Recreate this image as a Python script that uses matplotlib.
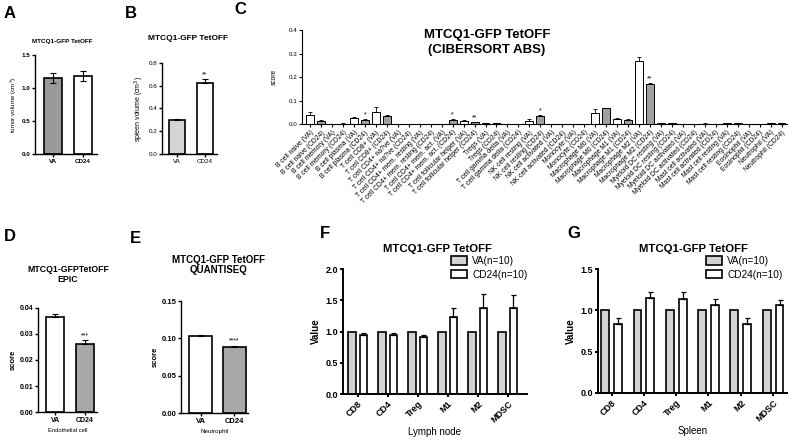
import numpy as np
import matplotlib
matplotlib.use("Agg")
import matplotlib.pyplot as plt
import matplotlib.patches as mpatches

plt.rcParams['font.family'] = ['Liberation Sans', 'DejaVu Sans']

W, H = 789, 444

# ---- data ----
groups2 = ["VA", "CD24"]

tumor_vol = [1.15, 1.18]
tumor_err = [0.08, 0.07]

spleen_vol = [0.295, 0.62]
spleen_err = [0.01, 0.035]

cells = ["B cell naive", "B cell memory", "B cell plasma", "T cell CD8+",
         "T cell CD4+ na?ve", "T cell CD4+ mem. resting", "T cell CD4+ mem. act.",
         "T cell follicular helper", "Tregs", "T cell gamma delta", "NK cell resting",
         "NK cell activated", "Monocyte", "Macrophage M0", "Macrophage M1",
         "Macrophage M2", "Myeloid DC resting", "Myeloid DC activated",
         "Mast cell activated", "Mast cell resting", "Eosinophil", "Neutrophil"]
cib_va = [0.039, 0.0, 0.028, 0.054, 0.0, 0.0, 0.002, 0.014, 0.004, 0.0, 0.014,
          0.002, 0.0, 0.048, 0.021, 0.267, 0.004, 0.0, 0.003, 0.004, 0.0, 0.004]
cib_va_err = [0.013, 0.0, 0.001, 0.018, 0.0, 0.0, 0.0005, 0.003, 0.002, 0.0, 0.008,
              0.0005, 0.0, 0.016, 0.006, 0.018, 0.002, 0.0, 0.002, 0.002, 0.0, 0.002]
cib_cd24 = [0.013, 0.003, 0.018, 0.037, 0.0, 0.0, 0.018, 0.008, 0.004, 0.0, 0.036,
            0.0, 0.0, 0.069, 0.020, 0.172, 0.004, 0.0, 0.0, 0.005, 0.0, 0.004]
cib_cd24_err = [0.006, 0.001, 0.003, 0.003, 0.0, 0.0, 0.005, 0.003, 0.002, 0.0, 0.002,
                0.0, 0.0, 0.002, 0.003, 0.004, 0.002, 0.0, 0.0, 0.002, 0.0, 0.002]
cib_sig = {(2, 1): "*", (6, 1): "*", (7, 1): "**", (10, 1): "*", (15, 1): "**"}

epic = [0.0365, 0.0263]
epic_err = [0.0013, 0.0013]

quanti = [0.103, 0.089]
quanti_err = [0.0012, 0.0008]

pops = ["CD8", "CD4", "Treg", "M1", "M2", "MDSC"]
lymph_va = [1.0, 1.0, 1.0, 1.0, 1.0, 1.0]
lymph_cd24 = [0.95, 0.95, 0.91, 1.23, 1.38, 1.37]
lymph_err = [0.03, 0.03, 0.03, 0.15, 0.22, 0.22]
spl_va = [1.0, 1.0, 1.0, 1.0, 1.0, 1.0]
spl_cd24 = [0.83, 1.15, 1.14, 1.07, 0.83, 1.06]
spl_err = [0.08, 0.07, 0.08, 0.07, 0.08, 0.07]


def box(x0, x1, ytop, ybot):
    return [x0 / W, 1 - ybot / H, (x1 - x0) / W, (ybot - ytop) / H]


def style(ax, lw=1.0, fs=5, bold=True):
    for s in ['top', 'right']:
        ax.spines[s].set_visible(False)
    for s in ['left', 'bottom']:
        ax.spines[s].set_linewidth(lw)
    ax.tick_params(width=lw, length=2.5, labelsize=fs, pad=1)
    if bold:
        for t in ax.get_yticklabels() + ax.get_xticklabels():
            t.set_fontweight('bold')


def ftext(x, y, s, **kw):
    fig.text(x / W, 1 - y / H, s, **kw)


fig = plt.figure(figsize=(W / 100, H / 100), dpi=100)

# ---- A ----
ax = fig.add_axes(box(35, 97, 55, 154))
ax.bar([0, 1], tumor_vol, width=0.6, color=['#9a9a9a', 'white'], edgecolor='black', linewidth=1.2)
ax.errorbar([0, 1], tumor_vol, yerr=tumor_err, fmt='none', ecolor='k', elinewidth=0.8, capsize=2.5, capthick=0.8)
ax.set_ylim(0, 1.5)
ax.set_xlim(-0.6, 1.47)
ax.set_yticks([0, 0.5, 1.0, 1.5])
ax.set_xticks([0, 1], groups2)
ax.set_ylabel("tumor volume (cm$^3$)", fontsize=4.5, labelpad=2)
style(ax, fs=4.5)
ftext(62, 42, "MTCQ1-GFP TetOFF", fontsize=4.6, fontweight='bold', ha='center', va='center')
ftext(4, 14, "A", fontsize=12, fontweight='bold', va='center')

# ---- B ----
ax = fig.add_axes(box(162, 217, 63, 154))
ax.bar([0, 1], spleen_vol, width=0.6, color=['#d4d4d4', 'white'], edgecolor='black', linewidth=1.2)
ax.errorbar([0, 1], spleen_vol, yerr=[[0, 0], spleen_err], fmt='none', ecolor='k', elinewidth=0.8, capsize=2.5, capthick=0.8)
ax.text(1, spleen_vol[1] + spleen_err[1] + 0.01, "**", ha='center', va='bottom', fontsize=5)
ax.set_ylim(0, 0.8)
ax.set_xlim(-0.54, 1.43)
ax.set_yticks([0, 0.2, 0.4, 0.6, 0.8])
ax.set_xticks([0, 1], groups2)
ax.set_ylabel("spleen volume (cm$^3$)", fontsize=5, labelpad=2)
style(ax, fs=4.5, bold=False)
ftext(188, 38, "MTCQ1-GFP TetOFF", fontsize=6, fontweight='bold', ha='center', va='center')
ftext(125, 14, "B", fontsize=12, fontweight='bold', va='center')

# ---- C ----
ax = fig.add_axes(box(302, 787, 30, 124.3))
n = len(cells)
xva = np.arange(n) * 2
xcd = xva + 1
ax.bar(xva, cib_va, width=0.72, color='white', edgecolor='black', linewidth=0.7)
ax.bar(xcd, cib_cd24, width=0.72, color='#a0a0a0', edgecolor='black', linewidth=0.7)
ax.errorbar(xva, cib_va, yerr=[np.zeros(n), cib_va_err], fmt='none', ecolor='k', elinewidth=0.6, capsize=1.5, capthick=0.6)
ax.errorbar(xcd, cib_cd24, yerr=[np.zeros(n), cib_cd24_err], fmt='none', ecolor='k', elinewidth=0.6, capsize=1.5, capthick=0.6)
for (i, g), s in cib_sig.items():
    v = cib_cd24[i] + cib_cd24_err[i]
    ax.text(2 * i + g, v + 0.003, s, ha='center', va='bottom', fontsize=5)
labels = []
for c in cells:
    labels += [c + " (VA)", c + " (CD24)"]
ax.set_xticks(np.arange(2 * n), labels, rotation=45, ha='right', rotation_mode='anchor')
ax.set_xlim(-0.74, 2 * n - 1 + 0.5)
ax.set_ylim(0, 0.4)
ax.set_yticks([0, 0.1, 0.2, 0.3, 0.4])
ax.set_ylabel("score", fontsize=4.8, labelpad=8)
style(ax, lw=0.8, fs=4.5, bold=False)
ax.tick_params(axis='x', length=2, labelsize=4.9, pad=1.5)
ftext(487, 35, "MTCQ1-GFP TetOFF", fontsize=9.5, fontweight='bold', ha='center', va='center')
ftext(487, 50, "(CIBERSORT ABS)", fontsize=9.5, fontweight='bold', ha='center', va='center')
ftext(234, 9, "C", fontsize=12, fontweight='bold', va='center')

# ---- D ----
ax = fig.add_axes(box(38, 97, 308, 412))
ax.bar([0, 1], epic, width=0.58, color=['white', '#a8a8a8'], edgecolor='black', linewidth=1.2)
ax.errorbar([0, 1], epic, yerr=[[0, 0], epic_err], fmt='none', ecolor='k', elinewidth=0.8, capsize=2.5, capthick=0.8)
ax.text(1, epic[1] + epic_err[1] + 0.0004, "***", ha='center', va='bottom', fontsize=5)
ax.set_ylim(0, 0.04)
ax.set_xlim(-0.57, 1.4)
ax.set_yticks([0, 0.01, 0.02, 0.03, 0.04], ["0.00", "0.01", "0.02", "0.03", "0.04"])
ax.set_xticks([0, 1], groups2)
ax.set_ylabel("score", fontsize=5.5, fontweight='bold', labelpad=2)
ax.set_xlabel("Endothelial cell", fontsize=4.2, labelpad=3)
style(ax, fs=5)
ftext(68, 270, "MTCQ1-GFPTetOFF", fontsize=6.3, fontweight='bold', ha='center', va='center')
ftext(68, 280, "EPIC", fontsize=6.3, fontweight='bold', ha='center', va='center')
ftext(4, 236, "D", fontsize=12, fontweight='bold', va='center')

# ---- E ----
ax = fig.add_axes(box(181, 248, 301, 413))
ax.bar([0, 1], quanti, width=0.69, color=['white', '#a8a8a8'], edgecolor='black', linewidth=1.2)
ax.errorbar([0, 1], quanti, yerr=[[0, 0], quanti_err], fmt='none', ecolor='k', elinewidth=0.8, capsize=2.5, capthick=0.8)
ax.text(1, quanti[1] + quanti_err[1] + 0.002, "****", ha='center', va='bottom', fontsize=5)
ax.set_ylim(0, 0.15)
ax.set_xlim(-0.6, 1.42)
ax.set_yticks([0, 0.05, 0.1, 0.15], ["0.00", "0.05", "0.10", "0.15"])
ax.set_xticks([0, 1], groups2)
ax.set_ylabel("score", fontsize=5.5, fontweight='bold', labelpad=2)
ax.set_xlabel("Neutrophil", fontsize=4.5, labelpad=3)
style(ax, fs=5.5)
ftext(218, 260, "MTCQ1-GFP TetOFF", fontsize=7, fontweight='bold', ha='center', va='center')
ftext(218, 270, "QUANTISEQ", fontsize=7, fontweight='bold', ha='center', va='center')
ftext(130, 238, "E", fontsize=12, fontweight='bold', va='center')


# ---- F, G ----
def grouped(box_px, va, cd, err, ymax, yticks, xlim, off, bw, xlabel, title_xy, letter_xy, leg_xy):
    ax = fig.add_axes(box(*box_px))
    x = np.arange(len(pops))
    ax.bar(x - off, va, width=bw, color='#d3d3d3', edgecolor='black', linewidth=1.2)
    ax.bar(x + off, cd, width=bw, color='white', edgecolor='black', linewidth=1.2)
    ax.errorbar(x + off, cd, yerr=[np.zeros(len(x)), err], fmt='none', ecolor='k', elinewidth=0.9, capsize=1.8, capthick=0.9)
    ax.set_ylim(0, ymax)
    ax.set_yticks(yticks)
    ax.set_xlim(*xlim)
    ax.set_xticks(x, pops, rotation=45, ha='right', rotation_mode='anchor')
    ax.set_ylabel("Value", fontsize=7, fontweight='bold', labelpad=3)
    ax.set_xlabel(xlabel, fontsize=7, labelpad=2)
    style(ax, lw=1.4, fs=6.5)
    ftext(*title_xy, "MTCQ1-GFP TetOFF", fontsize=8.2, fontweight='bold', ha='center', va='center')
    ftext(*letter_xy, fontsize=12, fontweight='bold', va='center')
    h = [mpatches.Patch(facecolor='#d3d3d3', edgecolor='black', linewidth=1.2, label="VA(n=10)"),
         mpatches.Patch(facecolor='white', edgecolor='black', linewidth=1.2, label="CD24(n=10)")]
    fig.legend(handles=h, loc='upper left', bbox_to_anchor=(leg_xy[0] / W, 1 - leg_xy[1] / H),
               frameon=False, fontsize=7.2, handlelength=1.6, handleheight=0.9,
               handletextpad=0.5, labelspacing=0.35, borderaxespad=0, borderpad=0)
    return ax


grouped((343, 527, 269, 394), lymph_va, lymph_cd24, lymph_err, 2.0, [0, 0.5, 1.0, 1.5, 2.0],
        (-0.49, 5.64), 0.19, 0.26, "Lymph node", (437, 249), (320, 234, "F"), (451, 256))
grouped((598, 787, 269, 393), spl_va, spl_cd24, spl_err, 1.5, [0, 0.5, 1.0, 1.5],
        (-0.42, 5.43), 0.2, 0.24, "Spleen", (693, 249), (567, 234, "G"), (706, 256))

fig.savefig("out.png", dpi=100)
